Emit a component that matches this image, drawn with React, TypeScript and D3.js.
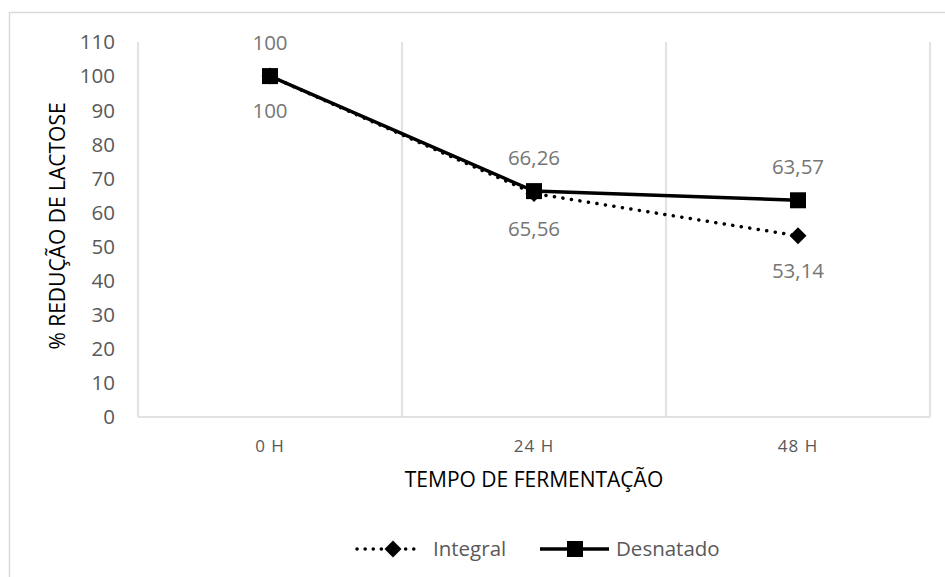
import React from "react";
import * as d3 from "d3";

const categories = ["0 H", "24 H", "48 H"];
const integral = [100, 65.56, 53.14];
const desnatado = [100, 66.26, 63.57];
const yTicks = [0, 10, 20, 30, 40, 50, 60, 70, 80, 90, 100, 110];

const W = 945, H = 577;
const left = 138, right = 930, top = 42, bottom = 417;
const FONT = "'Open Sans', sans-serif";

export default function App() {
  const x = d3.scaleBand<string>().domain(categories).range([left, right]).padding(0);
  const y = d3.scaleLinear().domain([0, 110]).range([bottom, top]);
  const cx = (c: string) => (x(c) as number) + x.bandwidth() / 2;
  const line = d3.line<number>().x((_, i) => cx(categories[i])).y((v) => y(v));
  const fmt = (v: number) => (Number.isInteger(v) ? String(v) : v.toFixed(2).replace(".", ","));
  const boundaries = [...categories.map((c) => x(c) as number), right];

  return (
    <svg width={W} height={H} style={{ position: "absolute", left: 0, top: 0, background: "#fff" }}>
      <rect x={9.5} y={12.5} width={W} height={H} fill="#fff" stroke="#d9d9d9" strokeWidth={1.5} />
      {boundaries.map((b, i) => (
        <line key={i} x1={b} x2={b} y1={top} y2={bottom} stroke="#d9d9d9" strokeWidth={1.5} />
      ))}
      <line x1={left} x2={right} y1={bottom} y2={bottom} stroke="#d9d9d9" strokeWidth={1.5} />
      {yTicks.map((t) => (
        <text key={t} x={115} y={y(t)} dy="0.36em" textAnchor="end" fontFamily={FONT} fontSize={20.5} fill="#595959">
          {t}
        </text>
      ))}
      {categories.map((c) => (
        <text key={c} x={cx(c)} y={452} textAnchor="middle" fontFamily={FONT} fontSize={17} fill="#595959" letterSpacing={1}>
          {c}
        </text>
      ))}
      <text x={534} y={487} textAnchor="middle" fontFamily={FONT} fontSize={21} fill="#000">
        TEMPO DE FERMENTAÇÃO
      </text>
      <text transform={`translate(65,226) rotate(-90)`} textAnchor="middle" fontFamily={FONT} fontSize={21} fill="#000">
        % REDUÇÃO DE LACTOSE
      </text>

      <path d={line(integral) as string} fill="none" stroke="#000" strokeWidth={3.5} strokeDasharray="0.1 8.5" strokeLinecap="round" />
      <path d={line(desnatado) as string} fill="none" stroke="#000" strokeWidth={3.5} />
      {integral.map((v, i) => (
        <rect key={i} x={-6} y={-6} width={12} height={12} fill="#000"
          transform={`translate(${cx(categories[i])},${y(v)}) rotate(45)`} />
      ))}
      {desnatado.map((v, i) => (
        <rect key={i} x={cx(categories[i]) - 8} y={y(v) - 8} width={16} height={16} fill="#000" />
      ))}
      {desnatado.map((v, i) => (
        <text key={i} x={cx(categories[i])} y={y(v) - 26} textAnchor="middle" fontFamily={FONT} fontSize={20.5} fill="#767676">
          {fmt(v)}
        </text>
      ))}
      {integral.map((v, i) => (
        <text key={i} x={cx(categories[i])} y={y(v) + 42} textAnchor="middle" fontFamily={FONT} fontSize={20.5} fill="#767676">
          {fmt(v)}
        </text>
      ))}

      <g>
        <line x1={357} x2={417} y1={549} y2={549} stroke="#000" strokeWidth={3.5} strokeDasharray="0.1 8" strokeLinecap="round" />
        <rect x={-6} y={-6} width={12} height={12} fill="#000" transform="translate(393,549) rotate(45)" />
        <text x={433} y={549} dy="0.36em" fontFamily={FONT} fontSize={20.5} fill="#595959">Integral</text>
        <line x1={540} x2={609} y1={549} y2={549} stroke="#000" strokeWidth={3.5} />
        <rect x={567} y={541} width={16} height={16} fill="#000" />
        <text x={616} y={549} dy="0.36em" fontFamily={FONT} fontSize={20.5} fill="#595959">Desnatado</text>
      </g>
    </svg>
  );
}
